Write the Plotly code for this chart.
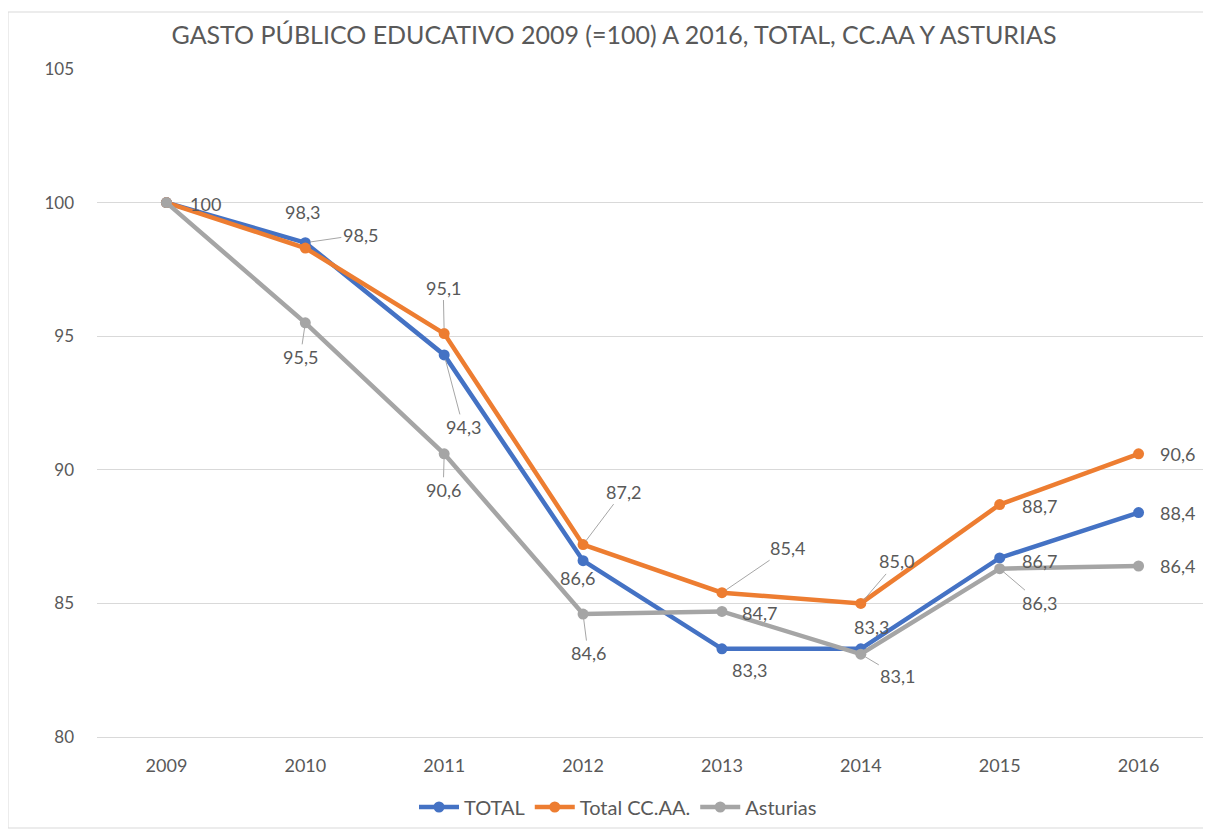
import plotly.graph_objects as go

# ---- data ----
years = ["2009", "2010", "2011", "2012", "2013", "2014", "2015", "2016"]
total = [100, 98.5, 94.3, 86.6, 83.3, 83.3, 86.7, 88.4]
total_ccaa = [100, 98.3, 95.1, 87.2, 85.4, 85.0, 88.7, 90.6]
asturias = [100, 95.5, 90.6, 84.6, 84.7, 83.1, 86.3, 86.4]
series_names = ["TOTAL", "Total CC.AA.", "Asturias"]
y_ticks = [80, 85, 90, 95, 100, 105]
title_text = "GASTO PÚBLICO EDUCATIVO 2009 (=100) A 2016, TOTAL, CC.AA Y ASTURIAS"

# ---- styles / label placement (pixel offsets dx, dy(down), leader line) ----
colors = ["#4472C4", "#ED7D31", "#A5A5A5"]
FONT = "Lato"
TXT = "#595959"
total_lab = [(39, 1, False), (55, -8, True), (19, 72, True), (-6, 17, False),
             (28, 21, False), (11, -22, False), (40, 3, False), (39, 0, False)]
ccaa_lab = [None, (-3, -36, False), (-1, -46, True), (40, -53, True),
            (66, -45, True), (36, -42, True), (40, 1, False), (39, 0, False)]
ast_lab = [None, (-5, 34, True), (-1, 36, True), (5, 39, True),
           (38, 2, False), (37, 22, True), (40, 34, True), (39, 0, False)]


def fmt(v):
    if v == 100:
        return "100"
    return f"{v:.1f}".replace(".", ",")


fig = go.Figure()
all_series = [total, total_ccaa, asturias]
all_labs = [total_lab, ccaa_lab, ast_lab]
for name, vals, col in zip(series_names, all_series, colors):
    fig.add_trace(go.Scatter(
        x=years, y=vals, name=name, mode="lines+markers",
        line=dict(color=col, width=4.5),
        marker=dict(color=col, size=11, symbol="circle"),
    ))

for vals, labs in zip(all_series, all_labs):
    for i, (v, lab) in enumerate(zip(vals, labs)):
        if lab is None:
            continue
        dx, dy, leader = lab
        if leader:
            fig.add_annotation(
                x=i, y=v, text=fmt(v), showarrow=True,
                ax=dx, ay=dy,
                arrowhead=0, arrowwidth=1, arrowcolor="#A6A6A6", standoff=5,
                font=dict(family=FONT, size=18, color=TXT))
        else:
            fig.add_annotation(
                x=i, y=v, text=fmt(v), showarrow=False,
                xshift=dx, yshift=-dy,
                font=dict(family=FONT, size=18, color=TXT))

# page body has an 8px margin -> place figure so that it lines up
OFF = 8
W, H = 1211 - OFF, 832 - OFF
L, R, T, B = 97 - OFF, 1208 - OFF, 69 - OFF, 737 - OFF
pw, ph = R - L, B - T


def px(x):
    return (x - OFF - L) / pw


def py(y):
    return (B - (y - OFF)) / ph


fig.update_layout(
    width=W, height=H, autosize=False,
    margin=dict(l=L, r=W - R, t=T, b=H - B),
    paper_bgcolor="white", plot_bgcolor="white",
    font=dict(family=FONT, size=18, color=TXT),
    title=dict(text=title_text, x=(614 - OFF) / W, xanchor="center",
               xref="container", y=1 - (35 - OFF) / H, yanchor="middle",
               yref="container", font=dict(family=FONT, size=25, color=TXT)),
    xaxis=dict(type="category", range=[-0.5, 7.5], showgrid=False,
               showline=True, linecolor="#D9D9D9", linewidth=1, ticks="",
               tickfont=dict(family=FONT, size=18, color=TXT),
               ticklabelstandoff=12, fixedrange=True),
    yaxis=dict(range=[80, 105], tickvals=y_ticks, showgrid=True,
               gridcolor="#D9D9D9", gridwidth=1, zeroline=False,
               showline=False, ticks="",
               tickfont=dict(family=FONT, size=17, color=TXT),
               ticklabelstandoff=22, fixedrange=True),
    legend=dict(orientation="h", x=px(618), xanchor="center", y=py(807),
                yanchor="middle", font=dict(family=FONT, size=20, color=TXT),
                bgcolor="rgba(0,0,0,0)", itemwidth=40),
    showlegend=True,
)
fig.add_shape(type="rect", xref="paper", yref="paper",
              x0=px(8), x1=px(1216), y0=py(828), y1=py(12),
              line=dict(color="#D9D9D9", width=1), layer="below")

fig.write_html("out.html")
